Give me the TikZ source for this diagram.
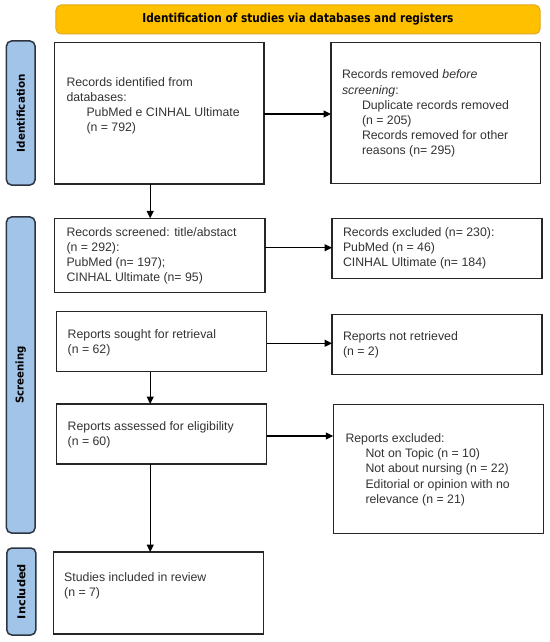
\documentclass[tikz,border=0pt]{standalone}
\usepackage{fontspec}
\setmainfont{Liberation Sans}
\newfontfamily\labfont{DejaVu Sans}
\usetikzlibrary{arrows.meta}
\definecolor{bannerfill}{HTML}{FFC000}
\definecolor{bannerdraw}{HTML}{E3A81C}
\definecolor{barfill}{HTML}{A2C4E8}
\definecolor{bardraw}{HTML}{2C3540}
\definecolor{txtcol}{HTML}{333333}
\newcommand\bodysize{\fontsize{12.3bp}{15.2bp}\selectfont}
\newcommand\ind{\hspace*{20bp}}
\tikzset{
  box/.style={draw=black!85, line width=1.1bp, inner sep=0pt, outer sep=0pt, fill=white},
  txt/.style={inner sep=0pt, outer sep=0pt, anchor=west, align=left, text=txtcol, font=\bodysize},
  banner/.style={draw=bannerdraw, fill=bannerfill, line width=1bp, rounded corners=5bp, inner sep=0pt, outer sep=0pt},
  sidebar/.style={draw=bardraw, fill=barfill, line width=1.5bp, rounded corners=5bp, inner sep=0pt, outer sep=0pt},
  lab/.style={inner sep=0pt, text=black, font=\labfont\bfseries\fontsize{10.8bp}{12bp}\selectfont},
  arr/.style={-{Triangle[length=7.5bp,width=7bp]}, line width=1.3bp, black}
}
\begin{document}
\begin{tikzpicture}[x=1bp,y=-1bp]
\useasboundingbox (0,0) rectangle (550,642);
% banner
\node[banner, minimum width=484bp, minimum height=29bp] (ban) at (298,19.5) {};
\node[lab, font=\labfont\bfseries\fontsize{12.3bp}{13bp}\selectfont] (bant) at (ban.center) {\resizebox{311bp}{\height}{Identification of studies via databases and registers}};
% side bars
\node[sidebar, minimum width=28.5bp, minimum height=144bp] (s1) at (20.75,113) {};
\node[sidebar, minimum width=28.5bp, minimum height=316bp] (s2) at (20.75,375) {};
\node[sidebar, minimum width=29bp, minimum height=87bp] (s3) at (21.3,591.5) {};
\node[lab, rotate=90] (s1t) at (s1.center) {\resizebox{78bp}{\height}{Identification}};
\node[lab, rotate=90] (s2t) at (s2.center) {\scalebox{0.94}[1]{Screening}};
\node[lab, rotate=90] (s3t) at (s3.center) {\resizebox{55bp}{\height}{Included}};
% boxes
\node[box, minimum width=209.5bp, minimum height=141.7bp] (b1) at (159.25,113.15) {};
\node[box, minimum width=209.7bp, minimum height=141.2bp] (b2) at (435.85,112.9) {};
\node[box, minimum width=210.3bp, minimum height=74.4bp] (b3) at (159.85,255.5) {};
\node[box, minimum width=210bp, minimum height=60bp] (b4) at (437,248.3) {};
\node[box, minimum width=209.9bp, minimum height=60bp] (b5) at (161.75,341.7) {};
\node[box, minimum width=210bp, minimum height=60bp] (b6) at (437,344.3) {};
\node[box, minimum width=210bp, minimum height=60bp] (b7) at (161.75,434) {};
\node[box, minimum width=210.6bp, minimum height=129.3bp] (b8) at (438.6,468.7) {};
\node[box, minimum width=210bp, minimum height=82bp] (b9) at (158.25,593) {};
% texts
\node[txt] (t1) at (66.5,106) {Records identified from\\databases:\\\ind PubMed e CINHAL Ultimate\\\ind (n = 792)};
\node[txt] (t2) at (342,113.8) {Records removed \textit{before}\\\textit{screening}:\\\ind Duplicate records removed\\\ind (n = 205)\\\ind Records removed for other\\\ind reasons (n= 295)};
\node[txt] (t3) at (66.5,256) {Records screened: title/abstact\\(n = 292):\\PubMed (n= 197);\\CINHAL Ultimate (n= 95)};
\node[txt] (t4) at (343,248.3) {Records excluded (n= 230):\\PubMed (n = 46)\\CINHAL Ultimate (n= 184)};
\node[txt] (t5) at (67.7,342.5) {Reports sought for retrieval\\(n = 62)};
\node[txt] (t6) at (343,345) {Reports not retrieved\\(n = 2)};
\node[txt] (t7) at (67.7,434.8) {Reports assessed for eligibility\\(n = 60)};
\node[txt] (t8) at (345.5,469.7) {Reports excluded:\\\ind Not on Topic (n = 10)\\\ind Not about nursing (n = 22)\\\ind Editorial or opinion with no\\\ind relevance (n = 21)};
\node[txt] (t9) at (64.2,585.8) {Studies included in review\\(n = 7)};
% connectors
\coordinate (ax) at (150.2,0);
\draw[arr] (b1.east |- 0,114) -- (b2.west |- 0,114);
\draw[arr] (b3.east |- 0,247.7) -- (b4.west |- 0,247.7);
\draw[arr] (b5.east |- 0,343.3) -- (b6.west |- 0,343.3);
\draw[arr] (b7.east |- 0,436) -- (b8.west |- 0,436);
\draw[arr] (b1.south -| ax) -- (b3.north -| ax);
\draw[arr] (b5.south -| ax) -- (b7.north -| ax);
\draw[arr] (b7.south -| ax) -- (b9.north -| ax);
\end{tikzpicture}
\end{document}
